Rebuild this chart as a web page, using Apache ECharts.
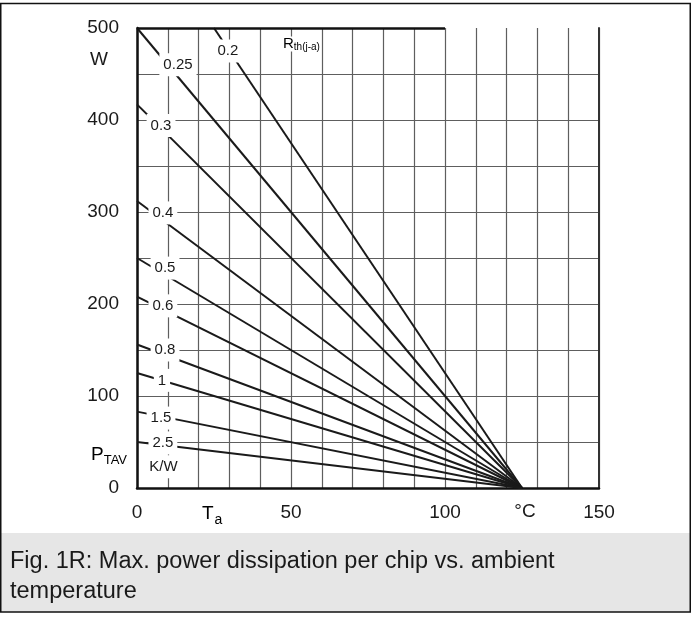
<!DOCTYPE html>
<html>
<head>
<meta charset="utf-8">
<script src="https://cdn.jsdelivr.net/npm/echarts@6/dist/echarts.min.js"></script>
<style>
html,body{margin:0;padding:0;background:#fff;}
#chart{width:695px;height:617px;}
</style>
</head>
<body>
<div id="chart"></div>
<script>
// Thermal resistance curves Rth(j-a) in K/W
const rthNames = ['0.2', '0.25', '0.3', '0.4', '0.5', '0.6', '0.8', '1', '1.5', '2.5'];
// start point of each curve (ambient temperature °C, power W)
const startTa = [25, 0, 0, 0, 0, 0, 0, 0, 0, 0];
const startP = [500, 500, 417, 312, 250, 208, 156, 125, 83, 50];
// end point of each curve (power reaches 0 W)
const endTa = [125, 125, 125, 125, 125, 125, 125, 125, 125, 125];
const endP = [0, 0, 0, 0, 0, 0, 0, 0, 0, 0];
// label anchor per curve
const labelTa = [29.5, 13.3, 7.8, 8.4, 9.1, 8.4, 9.1, 8.1, 7.8, 8.4];
const labelP = [475, 460, 394, 299, 239, 198, 150, 117, 76, 49];
// extra unit label
const unitLabel = {name: 'K/W', ta: 8.6, p: 23};
// axis tick labels
const xTickLabels = {0: '0', 50: '50', 100: '100', 150: '150'};
const yTickLabels = {0: '0', 100: '100', 200: '200', 300: '300', 400: '400', 500: '500'};

const FONT = '"Liberation Sans", Arial, Helvetica, sans-serif';
const chart = echarts.init(document.getElementById('chart'), null, {renderer: 'canvas'});

const series = [];
rthNames.forEach((n, i) => {
  const s = {
    name: 'Rth ' + n,
    type: 'line',
    data: [[startTa[i], startP[i]], [endTa[i], endP[i]]],
    symbol: 'none',
    lineStyle: {color: '#1a1a1a', width: 2},
    z: 3,
    silent: true,
    animation: false
  };
  if (i === 0) {
    s.markLine = {
      silent: true, symbol: 'none', animation: false,
      label: {show: false},
      lineStyle: {color: '#111', width: 2.5, type: 'solid'},
      data: [[{coord: [0, 500]}, {coord: [100, 500]}]]
    };
  }
  series.push(s);
});
const labelData = rthNames.map((n, i) => ({name: n, value: [labelTa[i], labelP[i]]}));
labelData.push({name: unitLabel.name, value: [unitLabel.ta, unitLabel.p]});
series.push({
  type: 'scatter',
  data: labelData,
  symbolSize: 0,
  z: 10,
  silent: true,
  animation: false,
  itemStyle: {opacity: 1},
  label: {
    show: true,
    position: 'inside',
    formatter: p => p.name,
    color: '#1a1a1a',
    textBorderWidth: 0,
    fontFamily: FONT,
    fontSize: 15,
    backgroundColor: '#fff',
    padding: [4, 4, 4, 4]
  }
});

// y split line colors: hide the 500 line (top border drawn separately)
const ySplitColors = [];
for (let v = 0; v <= 500; v += 50) ySplitColors.push(v === 500 ? 'rgba(0,0,0,0)' : '#5e5e5e');

chart.setOption({
  animation: false,
  backgroundColor: '#fff',
  grid: {left: 137, top: 28, width: 462, height: 460, containLabel: false},
  xAxis: {
    type: 'value', min: 0, max: 150, interval: 10,
    axisLine: {show: true, onZero: false, lineStyle: {color: '#111', width: 2.5}},
    axisTick: {show: false},
    splitLine: {show: true, lineStyle: {color: '#5e5e5e', width: 1.2}},
    axisLabel: {
      show: true, margin: 15, fontSize: 19, fontFamily: FONT, color: '#1a1a1a',
      formatter: v => (xTickLabels[v] !== undefined ? xTickLabels[v] : '')
    }
  },
  yAxis: [{
    type: 'value', min: 0, max: 500, interval: 50,
    axisLine: {show: true, lineStyle: {color: '#111', width: 2.5}},
    axisTick: {show: false},
    splitLine: {show: true, lineStyle: {color: ySplitColors, width: 1.2}},
    axisLabel: {
      show: true, margin: 18, fontSize: 19, fontFamily: FONT, color: '#1a1a1a',
      formatter: v => (yTickLabels[v] !== undefined ? yTickLabels[v] : '')
    }
  }, {
    type: 'value', min: 0, max: 500, interval: 50, position: 'right',
    axisLine: {show: true, lineStyle: {color: '#333', width: 2}},
    axisTick: {show: false}, axisLabel: {show: false}, splitLine: {show: false}
  }],
  series: series,
  graphic: [
    {type: 'rect', z: -10, shape: {x: 1, y: 533, width: 689, height: 79}, style: {fill: '#e6e6e6'}},
    {type: 'rect', z: 100, shape: {x: 0.75, y: 3.5, width: 689.5, height: 608.5}, style: {fill: 'none', stroke: '#111', lineWidth: 1.5}},
    {type: 'text', z: 100, x: 10, y: 562, style: {text: 'Fig. 1R: Max. power dissipation per chip vs. ambient', font: '23.5px ' + FONT, fill: '#1a1a1a', verticalAlign: 'middle'}},
    {type: 'text', z: 100, x: 10, y: 592, style: {text: 'temperature', font: '23.5px ' + FONT, fill: '#1a1a1a', verticalAlign: 'middle'}},
    {type: 'text', z: 100, x: 99, y: 60, style: {text: 'W', font: '19px ' + FONT, fill: '#1a1a1a', align: 'center', verticalAlign: 'middle'}},
    {type: 'text', z: 100, x: 91, y: 455, style: {
      text: '{a|P}{b|TAV}', verticalAlign: 'middle',
      rich: {a: {fontSize: 19, fontFamily: FONT, color: '#1a1a1a'},
             b: {fontSize: 13, fontFamily: FONT, color: '#1a1a1a', padding: [10, 0, 0, 0]}}
    }},
    {type: 'text', z: 100, x: 202, y: 514, style: {
      text: '{a|T}{b|a}', verticalAlign: 'middle',
      rich: {a: {fontSize: 19, fontFamily: FONT, color: '#1a1a1a'},
             b: {fontSize: 14, fontFamily: FONT, color: '#1a1a1a', padding: [12, 0, 0, 1]}}
    }},
    {type: 'text', z: 100, x: 525, y: 512, style: {text: '°C', font: '19px ' + FONT, fill: '#1a1a1a', align: 'center', verticalAlign: 'middle'}},
    {type: 'text', z: 100, x: 283, y: 44, style: {
      text: '{a|R}{b|th(j-a)}', verticalAlign: 'middle',
      rich: {a: {fontSize: 15, fontFamily: FONT, color: '#1a1a1a', backgroundColor: '#fff'},
             b: {fontSize: 10, fontFamily: FONT, color: '#1a1a1a', backgroundColor: '#fff', padding: [7, 0, 0, 0]}}
    }}
  ]
});
</script>
</body>
</html>
